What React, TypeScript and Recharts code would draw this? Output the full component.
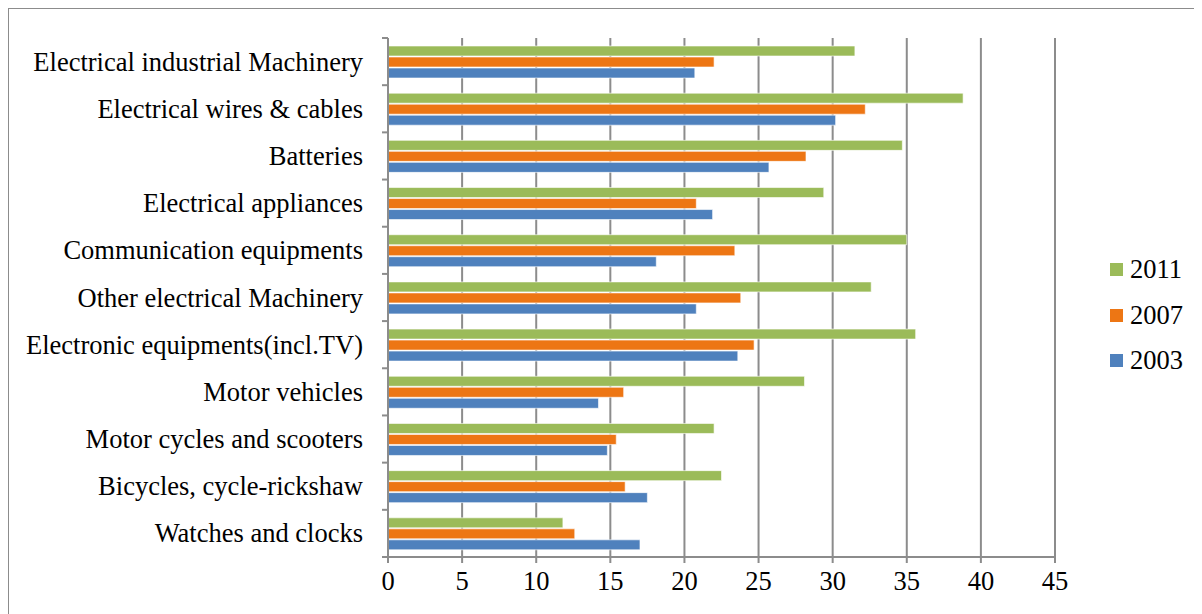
import { BarChart, Bar, XAxis, YAxis, CartesianGrid } from "recharts";

const categories = [
  "Electrical industrial Machinery",
  "Electrical wires & cables",
  "Batteries",
  "Electrical appliances",
  "Communication equipments",
  "Other electrical Machinery",
  "Electronic equipments(incl.TV)",
  "Motor vehicles",
  "Motor cycles and scooters",
  "Bicycles, cycle-rickshaw",
  "Watches and clocks",
];

const y2011 = [31.5, 38.8, 34.7, 29.4, 35.0, 32.6, 35.6, 28.1, 22.0, 22.5, 11.8];
const y2007 = [22.0, 32.2, 28.2, 20.8, 23.4, 23.8, 24.7, 15.9, 15.4, 16.0, 12.6];
const y2003 = [20.7, 30.2, 25.7, 21.9, 18.1, 20.8, 23.6, 14.2, 14.8, 17.5, 17.0];

const xTicks = [0, 5, 10, 15, 20, 25, 30, 35, 40, 45];

const series = [
  { key: "2011", color: "#9BBB59" },
  { key: "2007", color: "#ED7614" },
  { key: "2003", color: "#4F81BD" },
];

const data = categories.map((name, i) => ({
  name,
  "2011": y2011[i],
  "2007": y2007[i],
  "2003": y2003[i],
}));

const FONT = "'Liberation Serif', 'Times New Roman', serif";
const GRID = "#8c8c8c";
const PLOT_H = 519;
const band = PLOT_H / categories.length;

function CatTick(props: any) {
  const { x, y, payload, index } = props;
  return (
    <g>
      <text
        x={x - 25}
        y={y}
        textAnchor="end"
        dominantBaseline="central"
        fontFamily={FONT}
        fontSize={26.5}
        fill="#000"
      >
        {payload.value}
      </text>
      <line x1={x - 6} x2={x} y1={y - band / 2} y2={y - band / 2} stroke={GRID} strokeWidth={2} />
      {index === categories.length - 1 && (
        <line x1={x - 6} x2={x} y1={y + band / 2} y2={y + band / 2} stroke={GRID} strokeWidth={2} />
      )}
    </g>
  );
}

function LegendBox() {
  return (
    <div
      style={{
        position: "absolute",
        left: 1101,
        top: 238,
        fontFamily: FONT,
        fontSize: 26.5,
        color: "#000",
      }}
    >
      {series.map((s) => (
        <div key={s.key} style={{ display: "flex", alignItems: "center", height: 45.5 }}>
          <span style={{ width: 13, height: 13, background: s.color, marginRight: 7 }} />
          <span>{s.key}</span>
        </div>
      ))}
    </div>
  );
}

export default function App() {
  return (
    <div
      style={{
        position: "relative",
        width: 1190,
        height: 620,
        border: "1px solid #8c8c8c",
        overflow: "hidden",
      }}
    >
      <BarChart
        width={1190}
        height={600}
        data={data}
        layout="vertical"
        margin={{ top: 29, right: 144, bottom: 12, left: 0 }}
        barSize={10}
        barGap={1}
      >
        <CartesianGrid horizontal={false} vertical stroke={GRID} strokeWidth={2} />
        <XAxis
          type="number"
          domain={[0, 45]}
          ticks={xTicks}
          interval={0}
          stroke={GRID}
          strokeWidth={2}
          tickSize={6}
          tickMargin={8}
          height={40}
          tick={{ fontFamily: FONT, fontSize: 26.5, fill: "#000" }}
        />
        <YAxis
          type="category"
          dataKey="name"
          width={379}
          stroke={GRID}
          strokeWidth={2}
          tickLine={false}
          tickSize={0}
          tickMargin={0}
          interval={0}
          tick={<CatTick />}
        />
        {series.map((s) => (
          <Bar
            key={s.key}
            dataKey={s.key}
            fill={s.color}
            stroke="#ffffff"
            strokeOpacity={0.6}
            strokeWidth={1}
            isAnimationActive={false}
          />
        ))}
      </BarChart>
      <LegendBox />
    </div>
  );
}
